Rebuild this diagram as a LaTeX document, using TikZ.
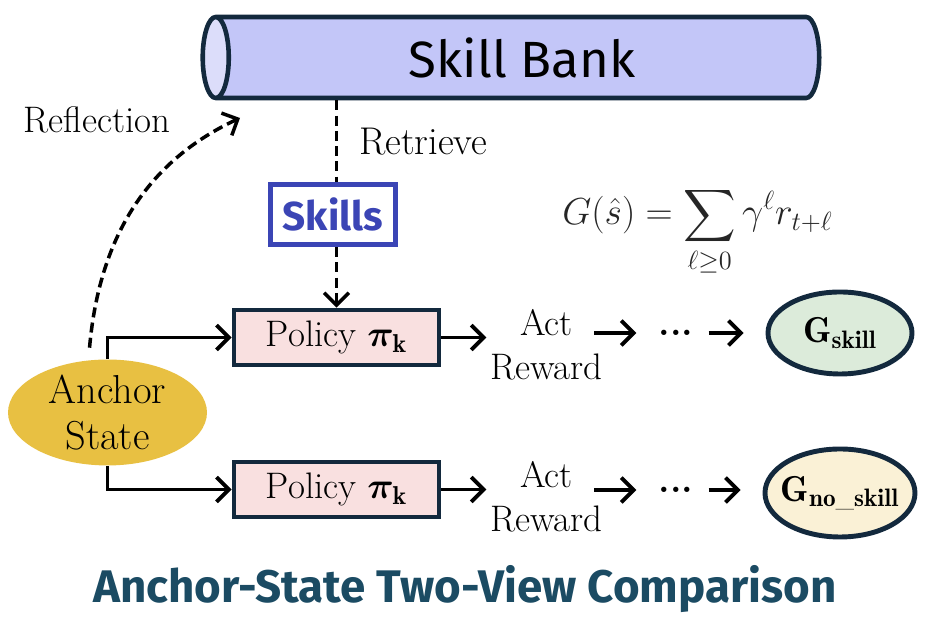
\RequirePackage{fix-cm}
\documentclass[tikz,border=0pt]{standalone}
\usepackage{amsmath}
\usepackage{bm}
\usepackage{fontspec}
\newfontfamily\handfont{Fira Sans}
\usepackage{tikz}
\usetikzlibrary{shapes.geometric,positioning,arrows.meta,calc}
\definecolor{bankFill}{HTML}{C3C6F8}
\definecolor{bankEnd}{HTML}{DCDDFA}
\definecolor{darkLine}{HTML}{13293D}
\definecolor{skillBlue}{HTML}{3B45B5}
\definecolor{policyFill}{HTML}{F9E0E0}
\definecolor{anchorGold}{HTML}{E8C042}
\definecolor{skillGreen}{HTML}{DCEBDA}
\definecolor{noSkillCream}{HTML}{FAF1D6}
\definecolor{titleTeal}{HTML}{1B4B63}

\begin{document}
\begin{tikzpicture}[
  every node/.style={font=\fontsize{21}{25}\selectfont},
  policy/.style={draw=darkLine,fill=policyFill,line width=2.8pt,minimum width=4.1cm,minimum height=1.1cm,inner sep=0pt,font=\fontsize{21}{25}\selectfont},
  retnode/.style={ellipse,draw=darkLine,line width=2.8pt,inner sep=0pt,inner xsep=-0.25cm,font=\fontsize{20.5}{24}\selectfont},
  flow/.style={-{Straight Barb[length=7pt,width=14pt]},line width=2.2pt},
  dline/.style={line width=2pt,dash pattern=on 5.7pt off 3pt},
  dflow/.style={dline,-{Straight Barb[length=7pt,width=14pt]}},
]
  \useasboundingbox (0,0) rectangle (18.72,12.76);

  % Skill bank on top
  \node[cylinder,shape border rotate=180,draw=darkLine,line width=2.6pt,
    cylinder uses custom fill,cylinder body fill=bankFill,cylinder end fill=bankEnd,
    aspect=0.5,minimum width=1.62cm,minimum height=12.33cm,
    font=\handfont\fontsize{29}{33}\selectfont] (bank) at (10.44,11.61) {Skill Bank};

  \node (reflection) at (1.94,10.36) {Reflection};
  \node[anchor=west,font=\fontsize{22}{26}\selectfont] (retrieve) at (7.06,9.92) {Retrieve};
  \coordinate (reflTip) at (4.8,10.4);

  % Retrieved skills
  \node[draw=skillBlue,line width=2.8pt,text=skillBlue,minimum width=2.5cm,minimum height=1.2cm,inner sep=0pt,
    font=\handfont\bfseries\fontsize{23}{27}\selectfont] (skills) at (6.66,8.47) {Skills};

  \node[anchor=base,text=black!85,font=\fontsize{21.4}{25}\selectfont] (ret) at (13.95,8.26)
    {$\displaystyle G(\hat{s}) = \sum_{\ell \ge 0} \gamma^{\ell} r_{t+\ell}$};

  % Anchor state and the two views
  \node[ellipse,fill=anchorGold,minimum width=3.98cm,minimum height=1.98cm,inner sep=0pt,align=center,
    font=\fontsize{23}{26}\selectfont] (anchor) at (2.15,4.51) {Anchor\\State};

  \node[policy] (pol1) at (6.73,6.01) {Policy $\bm{\pi}_{\mathbf{k}}$};
  \node[policy] (pol2) at (6.73,2.97) {Policy $\bm{\pi}_{\mathbf{k}}$};

  \node[align=center,inner sep=2pt] (act1) at (10.93,5.86) {Act\\Reward};
  \node[align=center,inner sep=2pt] (act2) at (10.93,2.82) {Act\\Reward};

  \node[inner sep=0pt,font=\bfseries\fontsize{21}{24}\selectfont] (dots1) at (13.52,6.1) {...};
  \node[inner sep=0pt,font=\bfseries\fontsize{21}{24}\selectfont] (dots2) at (13.52,2.96) {...};

  \node[retnode,fill=skillGreen,minimum width=2.88cm,minimum height=1.64cm] (gskill) at (16.8,6.1) {$\mathbf{G}_{\mathbf{skill}}$};
  \node[retnode,fill=noSkillCream,minimum width=3.0cm,minimum height=1.76cm] (gnoskill) at (16.8,2.9) {$\mathbf{G}_{\mathbf{no\_skill}}$};

  % connectors
  \draw[dline] (pol1.north |- bank.south) -- (pol1.north |- skills.north);
  \draw[dflow] (pol1.north |- skills.south) -- (pol1.north);
  \draw[dflow,shorten <=0.25cm] (anchor.110) to[out=85,in=205] (reflTip);

  \draw[flow] (anchor.north) |- (pol1.west);
  \draw[flow] (anchor.south) |- (pol2.west);

  \draw[flow] (pol1.east) -- (pol1.east -| act1.west);
  \draw[flow] (pol2.east) -- (pol2.east -| act2.west);
  \draw[flow,shorten >=0.44cm] ([xshift=-0.25cm]act1.east |- dots1.west) -- (dots1.west);
  \draw[flow,shorten >=0.44cm] ([xshift=-0.25cm]act2.east |- dots2.west) -- (dots2.west);
  \draw[flow,shorten <=0.3cm,shorten >=0.44cm] (dots1.east) -- (gskill.west |- dots1.east);
  \draw[flow,shorten <=0.3cm,shorten >=0.44cm] (dots2.east) -- (gnoskill.west |- dots2.east);

  % caption
  \node[anchor=base,text=titleTeal,font=\handfont\bfseries\fontsize{26}{30}\selectfont] (title) at (9.3,0.7)
    {Anchor-State Two-View Comparison};
\end{tikzpicture}
\end{document}
